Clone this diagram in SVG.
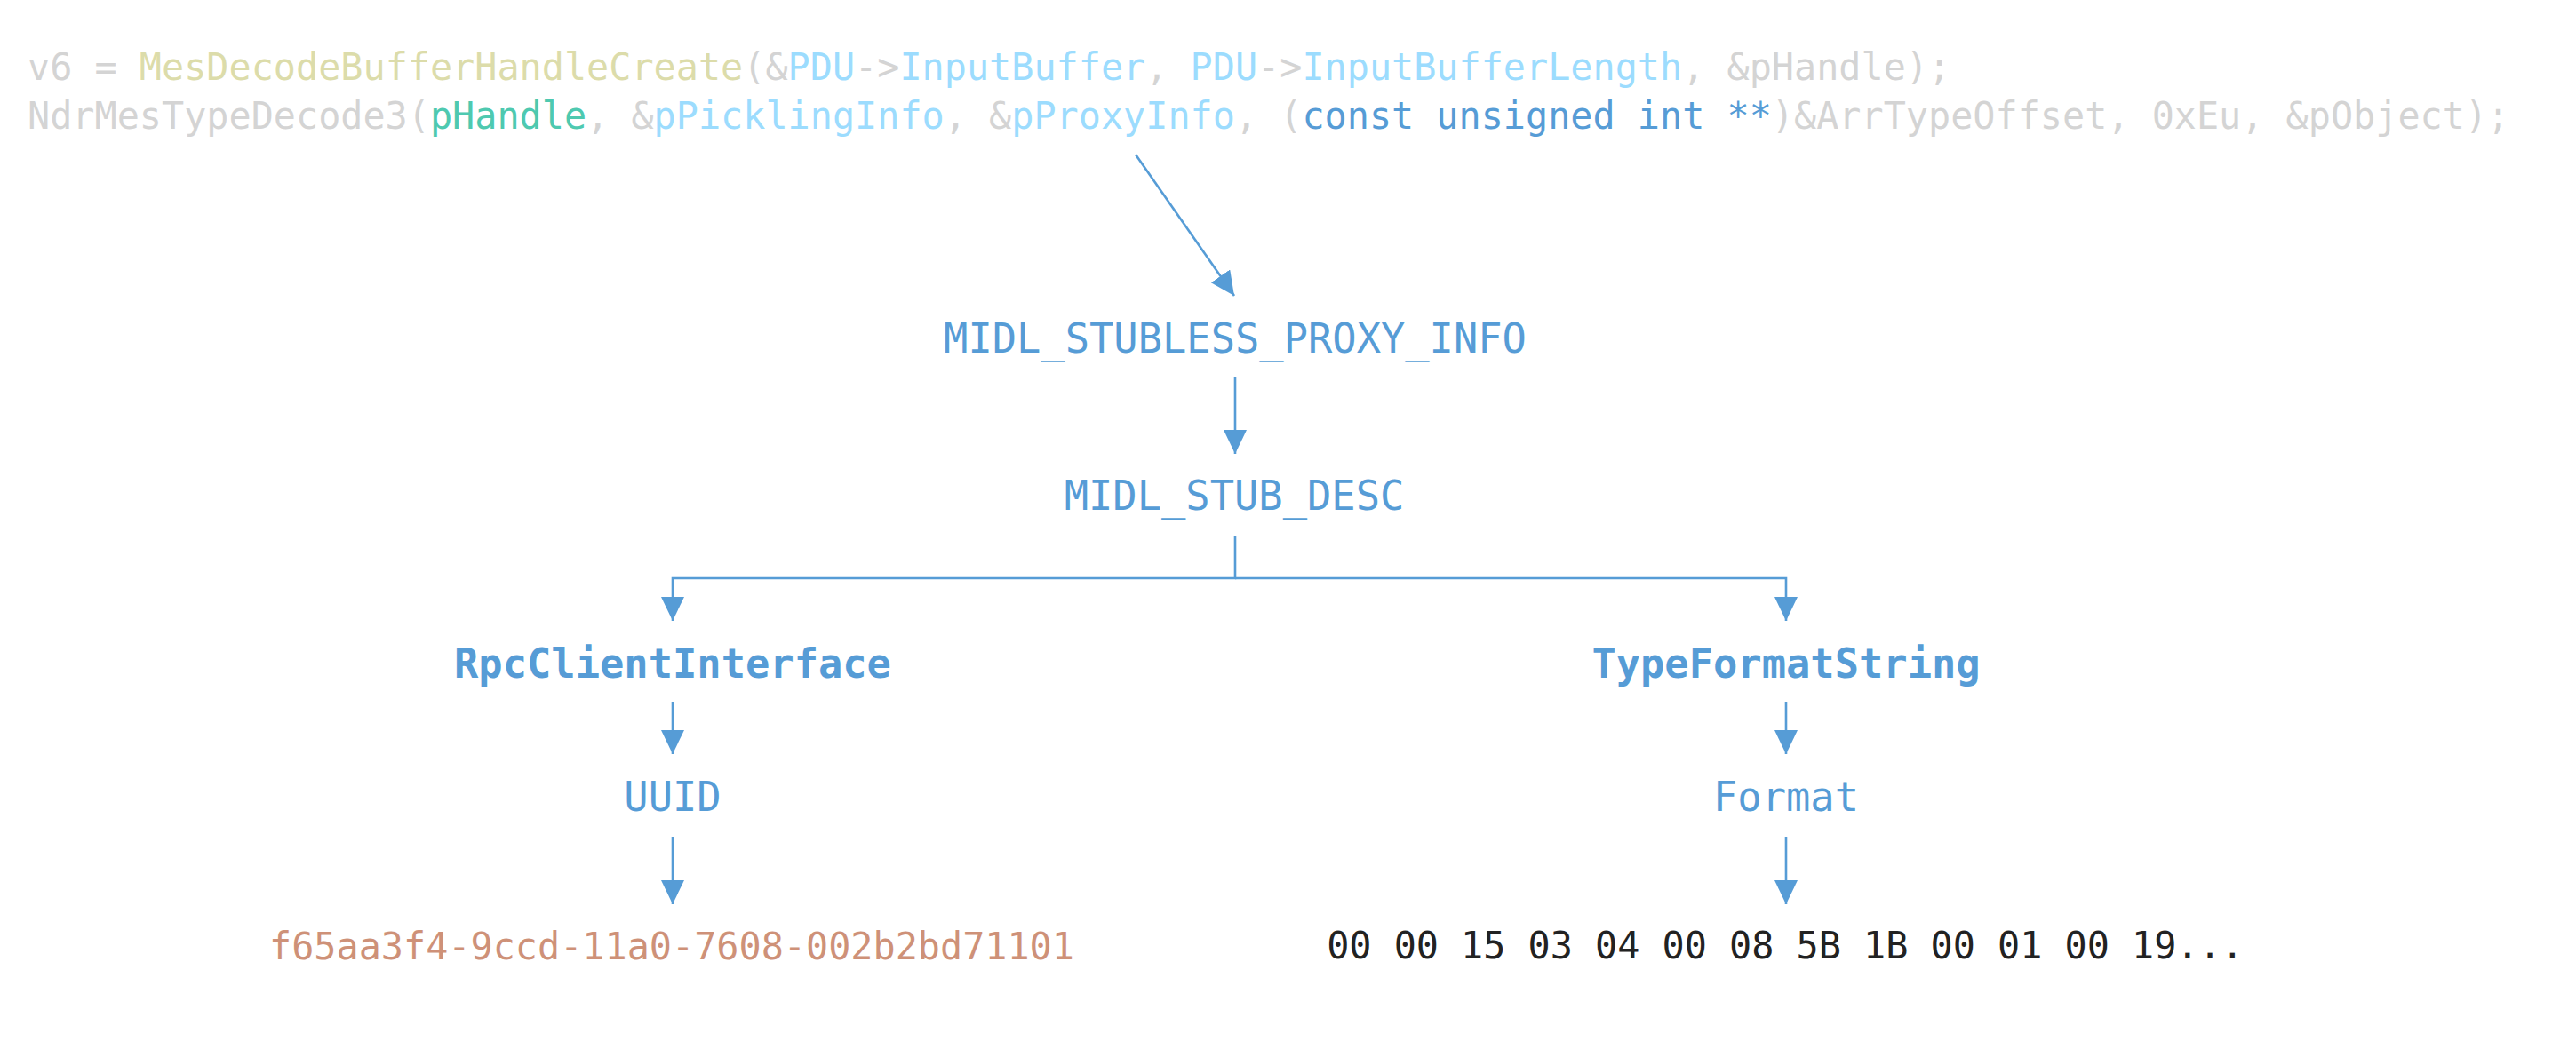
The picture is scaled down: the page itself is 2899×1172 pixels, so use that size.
<svg xmlns="http://www.w3.org/2000/svg" width="2899" height="1172" viewBox="0 0 2899 1172">
<style>
.code{font-family:"DejaVu Sans Mono","Liberation Mono",monospace;font-size:41.8px;fill:#d4d4d4}
.fn{fill:#dcdcaa}.var{fill:#9cdcfe}.typ{fill:#4ec9b0}.kw{fill:#569cd6}
.node{font-family:"DejaVu Sans Mono","Liberation Mono",monospace;font-size:45.4px;fill:#569cd6;text-anchor:middle}
.bold{font-weight:bold}
.val{font-family:"DejaVu Sans Mono","Liberation Mono",monospace;font-size:41.8px;text-anchor:middle}
.conn{fill:none;stroke:#569cd6;stroke-width:2.6}
</style>
<defs>
<marker id="ah" markerUnits="userSpaceOnUse" markerWidth="28" markerHeight="28" refX="27" refY="13" orient="auto">
<path d="M0,0 L27,13 L0,26 z" fill="#569cd6"/>
</marker>
</defs>
<rect width="2899" height="1172" fill="#ffffff"/>
<g id="code">
<text class="code" x="31" y="90" xml:space="preserve">v6 = <tspan class="fn">MesDecodeBufferHandleCreate</tspan>(&amp;<tspan class="var">PDU</tspan>-&gt;<tspan class="var">InputBuffer</tspan>, <tspan class="var">PDU</tspan>-&gt;<tspan class="var">InputBufferLength</tspan>, &amp;pHandle);</text>
<text class="code" x="31" y="145" xml:space="preserve">NdrMesTypeDecode3(<tspan class="typ">pHandle</tspan>, &amp;<tspan class="var">pPicklingInfo</tspan>, &amp;<tspan class="var">pProxyInfo</tspan>, (<tspan class="kw">const unsigned int **</tspan>)&amp;ArrTypeOffset, 0xEu, &amp;pObject);</text>
</g>
<g id="connectors">
<path class="conn" d="M1278,174 L1389,333" marker-end="url(#ah)"/>
<path class="conn" d="M1390,425 V511" marker-end="url(#ah)"/>
<path class="conn" d="M1390,603 V651 H757 V699" marker-end="url(#ah)"/>
<path class="conn" d="M1390,651 H2010 V699" marker-end="url(#ah)"/>
<path class="conn" d="M757,790 V849" marker-end="url(#ah)"/>
<path class="conn" d="M757,942 V1018" marker-end="url(#ah)"/>
<path class="conn" d="M2010,790 V849" marker-end="url(#ah)"/>
<path class="conn" d="M2010,942 V1018" marker-end="url(#ah)"/>
</g>
<g id="proxyinfo"><text class="node" x="1390" y="397">MIDL_STUBLESS_PROXY_INFO</text></g>
<g id="stubdesc"><text class="node" x="1389" y="574">MIDL_STUB_DESC</text></g>
<g id="rpcclient"><text class="node bold" x="757" y="763">RpcClientInterface</text></g>
<g id="typeformat"><text class="node bold" x="2010" y="763">TypeFormatString</text></g>
<g id="uuid"><text class="node" x="757" y="913">UUID</text></g>
<g id="format"><text class="node" x="2010" y="913">Format</text></g>
<g id="uuidvalue"><text class="val" x="756" y="1080" fill="#ce9178">f65aa3f4-9ccd-11a0-7608-002b2bd71101</text></g>
<g id="formatvalue"><text class="val" x="2009" y="1079" fill="#222222">00 00 15 03 04 00 08 5B 1B 00 01 00 19...</text></g>
</svg>
